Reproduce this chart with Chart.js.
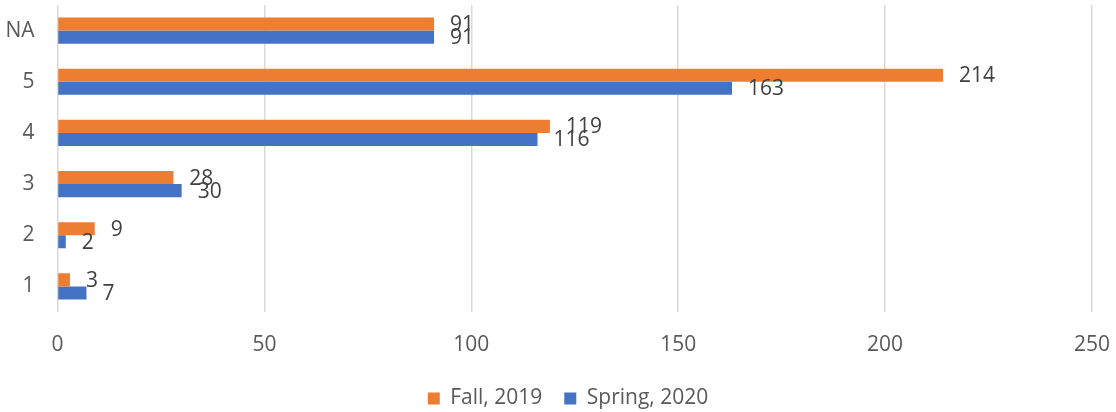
<!DOCTYPE html>
<html>
<head>
<meta charset="utf-8">
<script src="https://cdn.jsdelivr.net/npm/chart.js@4.4.1/dist/chart.umd.min.js"></script>
<style>
  html, body { margin: 0; padding: 0; background: #ffffff; }
  #wrap { width: 1116px; height: 412px; position: relative; }
</style>
</head>
<body>
<div id="wrap"><canvas id="c" width="1116" height="412"></canvas></div>
<script>
const categories = ['NA', '5', '4', '3', '2', '1'];
const fall2019 = [91, 214, 119, 28, 9, 3];
const spring2020 = [91, 163, 116, 30, 2, 7];
const seriesNames = ['Fall, 2019', 'Spring, 2020'];
const xTicks = [0, 50, 100, 150, 200, 250];

const FONT = '"Open Sans", "Liberation Sans", sans-serif';

const valueLabels = {
  id: 'valueLabels',
  afterDatasetsDraw(chart) {
    const ctx = chart.ctx;
    ctx.save();
    ctx.font = '21px ' + FONT;
    ctx.fillStyle = '#404040';
    ctx.textAlign = 'left';
    ctx.textBaseline = 'middle';
    chart.data.datasets.forEach((ds, i) => {
      const meta = chart.getDatasetMeta(i);
      meta.data.forEach((el, j) => {
        ctx.fillText(String(ds.data[j]), el.x + 16, el.y + 1);
      });
    });
    ctx.restore();
  }
};

const legendShift = {
  id: 'legendShift',
  afterLayout(chart) {
    const lg = chart.legend;
    if (!lg) return;
    const dy = 366 - lg.top;
    lg.top += dy; lg.bottom += dy;
    lg.left += 22; lg.right += 22;
  }
};

new Chart(document.getElementById('c'), {
  type: 'bar',
  data: {
    labels: categories,
    datasets: [
      { label: seriesNames[0], data: fall2019, backgroundColor: '#ED7D31', borderWidth: 0 },
      { label: seriesNames[1], data: spring2020, backgroundColor: '#4472C4', borderWidth: 0 }
    ]
  },
  options: {
    indexAxis: 'y',
    responsive: false,
    animation: false,
    maintainAspectRatio: false,
    layout: { padding: { top: 5, right: 24, left: 0, bottom: 0 } },
    datasets: { bar: { barPercentage: 1.0, categoryPercentage: 0.51 } },
    scales: {
      x: {
        min: 0, max: 250,
        afterBuildTicks(axis) { axis.ticks = xTicks.map(v => ({ value: v })); },
        afterFit(axis) { axis.height = 47; axis.paddingLeft = 0; axis.paddingRight = 0; },
        grid: { color: '#d9d9d9', lineWidth: 1.5, drawTicks: false },
        border: { display: false },
        ticks: { color: '#595959', font: { family: FONT, size: 21 }, padding: 20 }
      },
      y: {
        grid: { display: false, drawTicks: false },
        border: { display: false },
        afterFit(axis) { axis.width = 57.5; axis.paddingTop = 0; axis.paddingBottom = 0; },
        ticks: { color: '#595959', font: { family: FONT, size: 21 }, padding: 23 }
      }
    },
    plugins: {
      legend: {
        position: 'bottom',
        labels: {
          color: '#595959',
          font: { family: FONT, size: 21 },
          boxWidth: 12, boxHeight: 12,
          padding: 22
        }
      },
      tooltip: { enabled: false }
    }
  },
  plugins: [valueLabels, legendShift]
});
</script>
</body>
</html>
